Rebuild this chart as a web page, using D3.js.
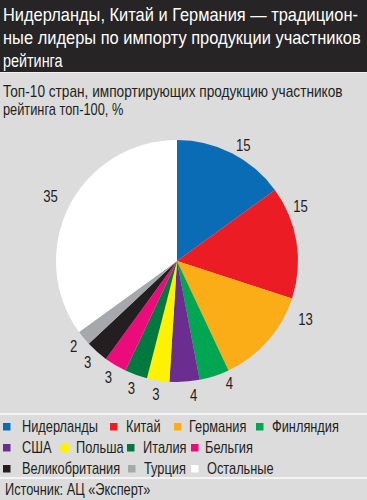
<!DOCTYPE html>
<html><head><meta charset="utf-8">
<script src="https://cdn.jsdelivr.net/npm/d3@7"></script>
<style>
html,body{margin:0;padding:0;background:#dcdcdd;}
svg{display:block;}
text{font-family:"Liberation Sans",Arial,sans-serif;}
</style></head>
<body><svg id="c" width="367" height="500"></svg>
<script>
const titleLines = ["Нидерланды, Китай и Германия — традицион-", "ные лидеры по импорту продукции участников", "рейтинга"];
const subtitleLines = ["Топ-10 стран, импортирующих продукцию участников", "рейтинга топ-100, %"];
const categories = ["Нидерланды","Китай","Германия","Финляндия","США","Польша","Италия","Бельгия","Великобритания","Турция","Остальные"];
const values = [15,15,13,4,4,3,3,3,3,2,35];
const colors = ["#0b6cb6","#ec1c24","#fbad18","#00a651","#6b2d90","#fff200","#00793f","#ec0b7b","#231f20","#a6a8ab","#ffffff"];
const legendRows = [[0,1,2,3],[4,5,6,7],[8,9,10]];
const source = "Источник: АЦ «Эксперт»";

const svg = d3.select("#c");
const W = 367, H = 500;
const ink = "#231f20";
svg.append("rect").attr("width",W).attr("height",H).attr("fill","#dcdcdd");
svg.append("rect").attr("width",W).attr("height",72).attr("fill","#262425");
svg.append("rect").attr("y",72).attr("width",W).attr("height",1).attr("fill","#f0f0f0");

// draw horizontally condensed text: factor k, or fit to width w
function ctext(parent, str, x, y, size, fill, opts={}){
  const t = parent.append("text").attr("font-size",size).attr("fill",fill).text(str);
  if (opts.anchor) t.attr("text-anchor",opts.anchor);
  if (opts.dy) t.attr("dy",opts.dy);
  let k = opts.k || 0.8;
  if (opts.w) k = opts.w / t.node().getComputedTextLength();
  t.attr("transform",`translate(${x},${y}) scale(${k},1)`);
  return t;
}

const titleW = [355, 358, null];
titleLines.forEach((t,i)=>{
  ctext(svg, t, 3, 21+i*23, 18, "#ffffff", titleW[i] ? {w:titleW[i]} : {k:0.80});
});
const subW = [340, null];
subtitleLines.forEach((t,i)=>{
  ctext(svg, t, 3, 97+i*18, 16, ink, subW[i] ? {w:subW[i]} : {k:0.80});
});

const cx = 177, cy = 261, R = 121;
const pie = d3.pie().sort(null).value(d=>d);
const arcs = pie(values);
const arc = d3.arc().innerRadius(0).outerRadius(R);
const g = svg.append("g").attr("transform",`translate(${cx},${cy})`);
g.selectAll("path").data(arcs).join("path").attr("d",arc).attr("fill",(d,i)=>colors[i]);

// label placement: mid-angle with small angular nudges (radians) where the source shifted labels
const nudge = [0.05,-0.26,-0.30,-0.09,-0.06,0,0,0,0,0,0];
const lr = [133,135,141,133,135,135,135,135,135,134,142];
arcs.forEach((d,i)=>{
  const a = (d.startAngle+d.endAngle)/2 + nudge[i];
  ctext(g, d.data, Math.sin(a)*lr[i], -Math.cos(a)*lr[i], 16, ink, {k:0.82, anchor:"middle", dy:"0.36em"});
});

svg.append("rect").attr("y",413).attr("width",W).attr("height",2).attr("fill","#f4f4f4");
svg.append("rect").attr("y",477).attr("width",W).attr("height",2).attr("fill","#f4f4f4");

// legend layout (column starts per row)
const legendX = [[3,110,174,256],[3,60,127,191],[3,128,191]];
const legendTextX = [[22,126,189,272],[22,76,143,205],[22,144,207]];
const rowY = [432,453,474];
legendRows.forEach((row,ri)=>{
  row.forEach((ci,j)=>{
    const x = legendX[ri][j], y = rowY[ri];
    if (ci===5) {
      svg.append("circle").attr("cx",x+5).attr("cy",y-5).attr("r",5).attr("fill",colors[ci]);
    } else {
      svg.append("rect").attr("x",x).attr("y",y-9).attr("width",7.5).attr("height",7.5).attr("fill",colors[ci]);
    }
    ctext(svg, categories[ci], legendTextX[ri][j], y, 16, ink, {k:0.80});
  });
});
ctext(svg, source, 5, 495, 16, ink, {k:0.80});
</script></body></html>
